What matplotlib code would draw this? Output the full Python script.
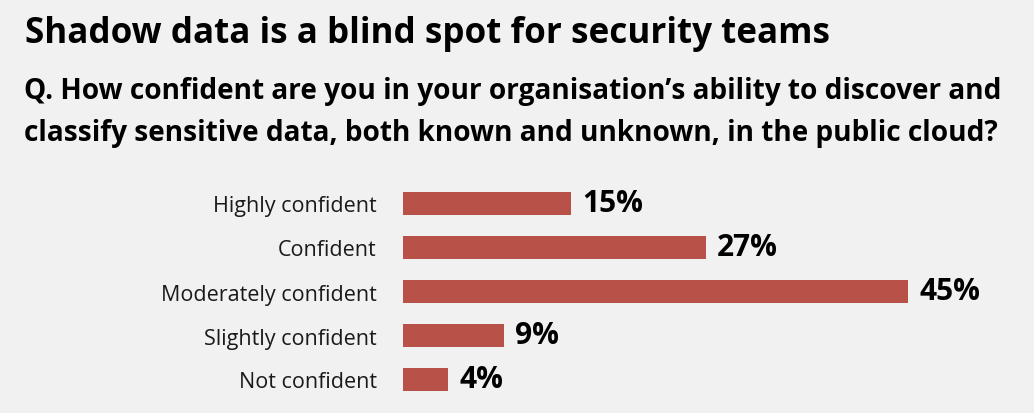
import matplotlib
matplotlib.use("Agg")
from matplotlib import pyplot as plt

plt.rcParams['font.family'] = ['Open Sans', 'DejaVu Sans']

categories = ["Highly confident", "Confident", "Moderately confident",
              "Slightly confident", "Not confident"]
values = [15, 27, 45, 9, 4]

bg = "#f1f1f1"
bar_color = "#b85148"

fig = plt.figure(figsize=(10.34, 4.14), dpi=100, facecolor=bg)
W, H = 1034, 414
# axes in pixel terms: left 403, width for 0..50, bars centred 204..380
left = 403 / W
width = (50 * 11.22) / W
top = 1 - 182.5 / H
bottom = 1 - 402.5 / H
ax = fig.add_axes([left, bottom, width, top - bottom])
ax.set_facecolor(bg)

y = list(range(len(categories)))
ax.barh(y, values, height=0.52, color=bar_color, edgecolor="none")
ax.set_xlim(0, 50)
ax.set_ylim(len(categories) - 0.5, -0.5)

for yi, v in zip(y, values):
    ax.text(v + 1.0, yi, f"{v}%", va="center", ha="left",
            fontsize=21.5, fontweight="bold", color="black")

ax.set_yticks(y)
ax.set_yticklabels(categories, fontsize=15.5, color="#1a1a1a")
ax.tick_params(axis="y", length=0, pad=19)
ax.set_xticks([])
for s in ax.spines.values():
    s.set_visible(False)

fig.text(25 / W, 1 - 34 / H, "Shadow data is a blind spot for security teams",
         fontsize=25.2, fontweight="bold", va="center", ha="left")
fig.text(24 / W, 1 - 92 / H,
         "Q. How confident are you in your organisation\u2019s ability to discover and",
         fontsize=20.2, fontweight="bold", va="center", ha="left")
fig.text(24 / W, 1 - 133 / H,
         "classify sensitive data, both known and unknown, in the public cloud?",
         fontsize=20.2, fontweight="bold", va="center", ha="left")

fig.savefig("out.png", dpi=100, facecolor=bg)
